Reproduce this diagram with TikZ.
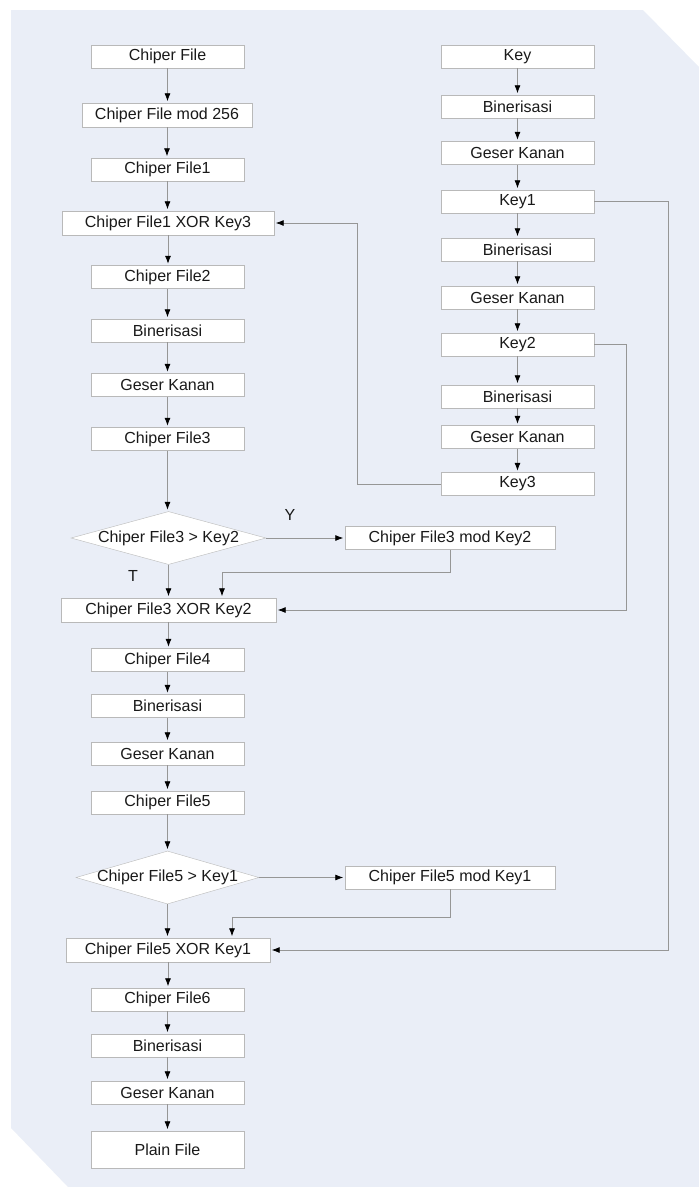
\documentclass[tikz,border=0pt]{standalone}
\usepackage{fontspec}
\setmainfont{Liberation Sans}
\usetikzlibrary{shapes.geometric,arrows.meta,positioning}
\definecolor{sheetbg}{RGB}{234,238,247}
\definecolor{boxline}{RGB}{185,185,185}
\definecolor{flowline}{RGB}{150,150,150}
\newcommand\flowfont{\fontsize{16}{19}\selectfont}
\newcommand\stepw{153pt}
\newcommand\steph{23pt}
\tikzset{
  stepbox/.style={draw=boxline, fill=white, minimum width=\stepw, minimum height=\steph, inner sep=0pt, font=\flowfont, text=black!90},
  testbox/.style={diamond, draw=boxline, fill=white, aspect=3.6, minimum width=#1, minimum height=53pt, inner sep=0pt, font=\flowfont, text=black!90},
  flowlabel/.style={font=\flowfont, text=black!90},
  flow/.style={draw=flowline, line width=0.8pt, -{Latex[length=8pt,width=6pt,color=black]}, shorten >=1.5pt},
}
\begin{document}
\begin{tikzpicture}[x=1pt,y=-1pt]
  \useasboundingbox (0,0) rectangle (699,1187);
  \fill[sheetbg] (11,10) -- (643,10) -- (699,67) -- (699,1187) -- (68,1187) -- (11,1128) -- cycle;

  \node[stepbox] (cf) at (167.5,56.5) {Chiper File};
  \node[stepbox, minimum width=170pt, minimum height=24pt] (cfmod) at (167,115) {Chiper File mod 256};
  \node[stepbox] (cfA) at (167.5,169.5) {Chiper File1};
  \node[stepbox, minimum width=212pt, minimum height=24pt] (xorA) at (168,223) {Chiper File1 XOR Key3};
  \node[stepbox] (cfB) at (167.5,277) {Chiper File2};
  \node[stepbox] (binA) at (167.5,330.5) {Binerisasi};
  \node[stepbox] (geserA) at (167.5,385) {Geser Kanan};
  \node[stepbox] (cfC) at (167.5,439) {Chiper File3};
  \node[testbox=195pt] (testA) at (168.5,538) {\makebox[0pt]{Chiper File3 > Key2}};
  \node[stepbox, minimum width=210pt] (modA) at (450,538) {Chiper File3 mod Key2};
  \node[stepbox, minimum width=215pt, minimum height=24pt] (xorB) at (168.5,610) {Chiper File3 XOR Key2};
  \node[stepbox] (cfD) at (167.5,660) {Chiper File4};
  \node[stepbox] (binB) at (167.5,706) {Binerisasi};
  \node[stepbox] (geserB) at (167.5,753.5) {Geser Kanan};
  \node[stepbox] (cfE) at (167.5,802.5) {Chiper File5};
  \node[testbox=183pt] (testB) at (167.5,877.5) {\makebox[0pt]{Chiper File5 > Key1}};
  \node[stepbox, minimum width=210pt] (modB) at (450,877.5) {Chiper File5 mod Key1};
  \node[stepbox, minimum width=204pt, minimum height=24pt] (xorC) at (168,950) {Chiper File5 XOR Key1};
  \node[stepbox] (cfF) at (167.5,999.5) {Chiper File6};
  \node[stepbox] (binC) at (167.5,1045.5) {Binerisasi};
  \node[stepbox] (geserC) at (167.5,1092.5) {Geser Kanan};
  \node[stepbox, minimum height=37pt] (plain) at (167.5,1149.5) {Plain File};

  \node[stepbox] (key) at (517.5,56.5) {Key};
  \node[stepbox] (binK) at (517.5,106.5) {Binerisasi};
  \node[stepbox] (geserK) at (517.5,153) {Geser Kanan};
  \node[stepbox] (keyA) at (517.5,201.5) {Key1};
  \node[stepbox] (binKA) at (517.5,249.5) {Binerisasi};
  \node[stepbox] (geserKA) at (517.5,297.5) {Geser Kanan};
  \node[stepbox] (keyB) at (517.5,344.5) {Key2};
  \node[stepbox] (binKB) at (517.5,396.5) {Binerisasi};
  \node[stepbox] (geserKB) at (517.5,437) {Geser Kanan};
  \node[stepbox] (keyC) at (517.5,484) {Key3};

  \node[flowlabel] (yes) at (290,515) {Y};
  \node[flowlabel] (no) at (133,576) {T};

  \foreach \a/\b in {cf/cfmod, cfmod/cfA, cfA/xorA, xorA/cfB, cfB/binA, binA/geserA, geserA/cfC,
      cfC/testA, testA/xorB, xorB/cfD, cfD/binB, binB/geserB, geserB/cfE, cfE/testB, testB/xorC,
      xorC/cfF, cfF/binC, binC/geserC, geserC/plain,
      key/binK, binK/geserK, geserK/keyA, keyA/binKA, binKA/geserKA, geserKA/keyB,
      keyB/binKB, binKB/geserKB, geserKB/keyC}
    \draw[flow] (\a.south) -- (\a.south |- \b.north);

  \draw[flow] (testA.east) -- (testA.east -| modA.west);
  \draw[flow] (testB.east) -- (testB.east -| modB.west);

  \coordinate (mergeA) at (222,572);
  \draw[flow] (modA.south) |- (mergeA) -- (mergeA |- xorB.north);
  \coordinate (mergeB) at (232,917);
  \draw[flow] (modB.south) |- (mergeB) -- (mergeB |- xorC.north);

  \coordinate (feedA) at (357,223);
  \draw[flow] (keyC.west) -| (feedA) -- (xorA.east);
  \coordinate (feedB) at (626,610);
  \draw[flow] (keyB.east) -| (feedB) -- (xorB.east);
  \coordinate (feedC) at (668,950);
  \draw[flow] (keyA.east) -| (feedC) -- (xorC.east);
\end{tikzpicture}
\end{document}
